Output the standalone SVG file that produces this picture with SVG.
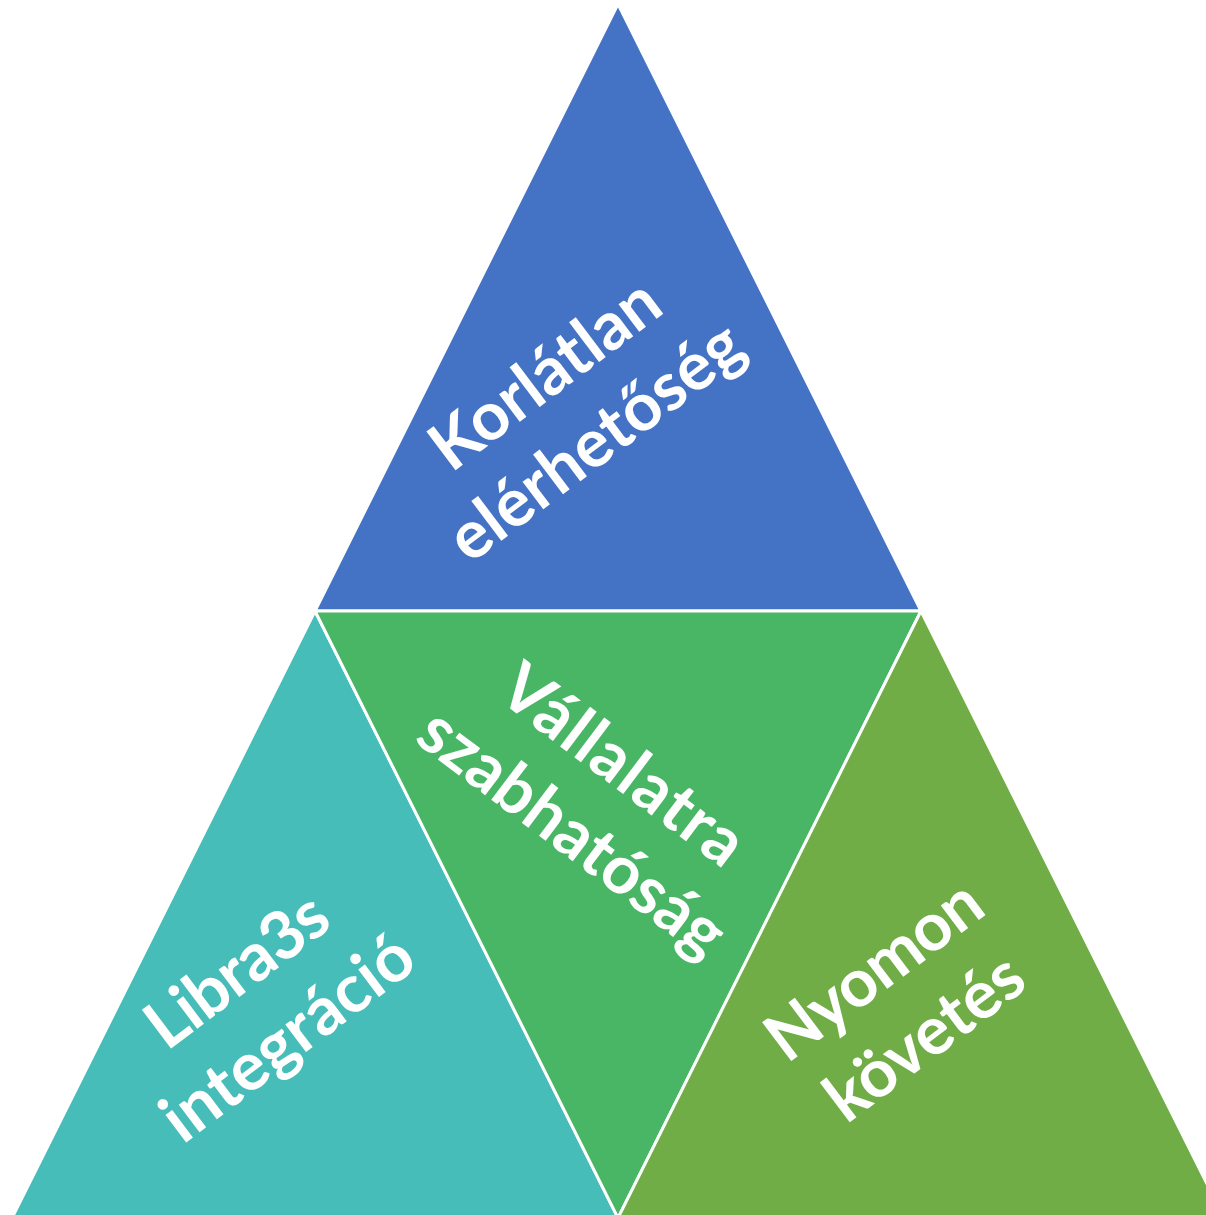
<svg xmlns="http://www.w3.org/2000/svg" width="1206" height="1215" viewBox="0 0 1206 1215">
  <style>
    .tri { stroke: #FFFFFF; stroke-width: 3; stroke-linejoin: miter; }
    .lbl { font-family: Lato, "Open Sans", "Liberation Sans", sans-serif; font-weight: bold; font-size: 67px; fill: #FFFFFF; text-anchor: middle; }
  </style>
  <rect x="0" y="0" width="1206" height="1215" fill="#FFFFFF"/>
  <g id="connectors"></g>
  <g id="node-top">
    <polygon class="tri" fill="#4472C4" points="618,4 315,611 921,611"/>
    <g transform="translate(584,426) rotate(-37)">
      <text class="lbl" x="0" y="-42" textLength="269">Korlátlan</text>
      <text class="lbl" x="0" y="42" textLength="350">elérhetőség</text>
    </g>
  </g>
  <g id="node-left">
    <polygon class="tri" fill="#46BDB8" points="315,611 12,1218 618,1218"/>
    <g transform="translate(276,1022) rotate(-37)">
      <text class="lbl" x="0" y="-42" textLength="210">Libra3s</text>
      <text class="lbl" x="0" y="42" textLength="297">integráció</text>
    </g>
  </g>
  <g id="node-middle">
    <polygon class="tri" fill="#48B665" points="315,611 921,611 618,1218"/>
    <g transform="translate(584,817) rotate(37)">
      <text class="lbl" x="0" y="-42" textLength="287">Vállalatra</text>
      <text class="lbl" x="0" y="42" textLength="365">szabhatóság</text>
    </g>
  </g>
  <g id="node-right">
    <polygon class="tri" fill="#70AD47" points="921,611 618,1218 1224,1218"/>
    <g transform="translate(913,1022) rotate(-37)">
      <text class="lbl" x="0" y="-42" textLength="252">Nyomon</text>
      <text class="lbl" x="0" y="42" textLength="230">követés</text>
    </g>
  </g>
</svg>
